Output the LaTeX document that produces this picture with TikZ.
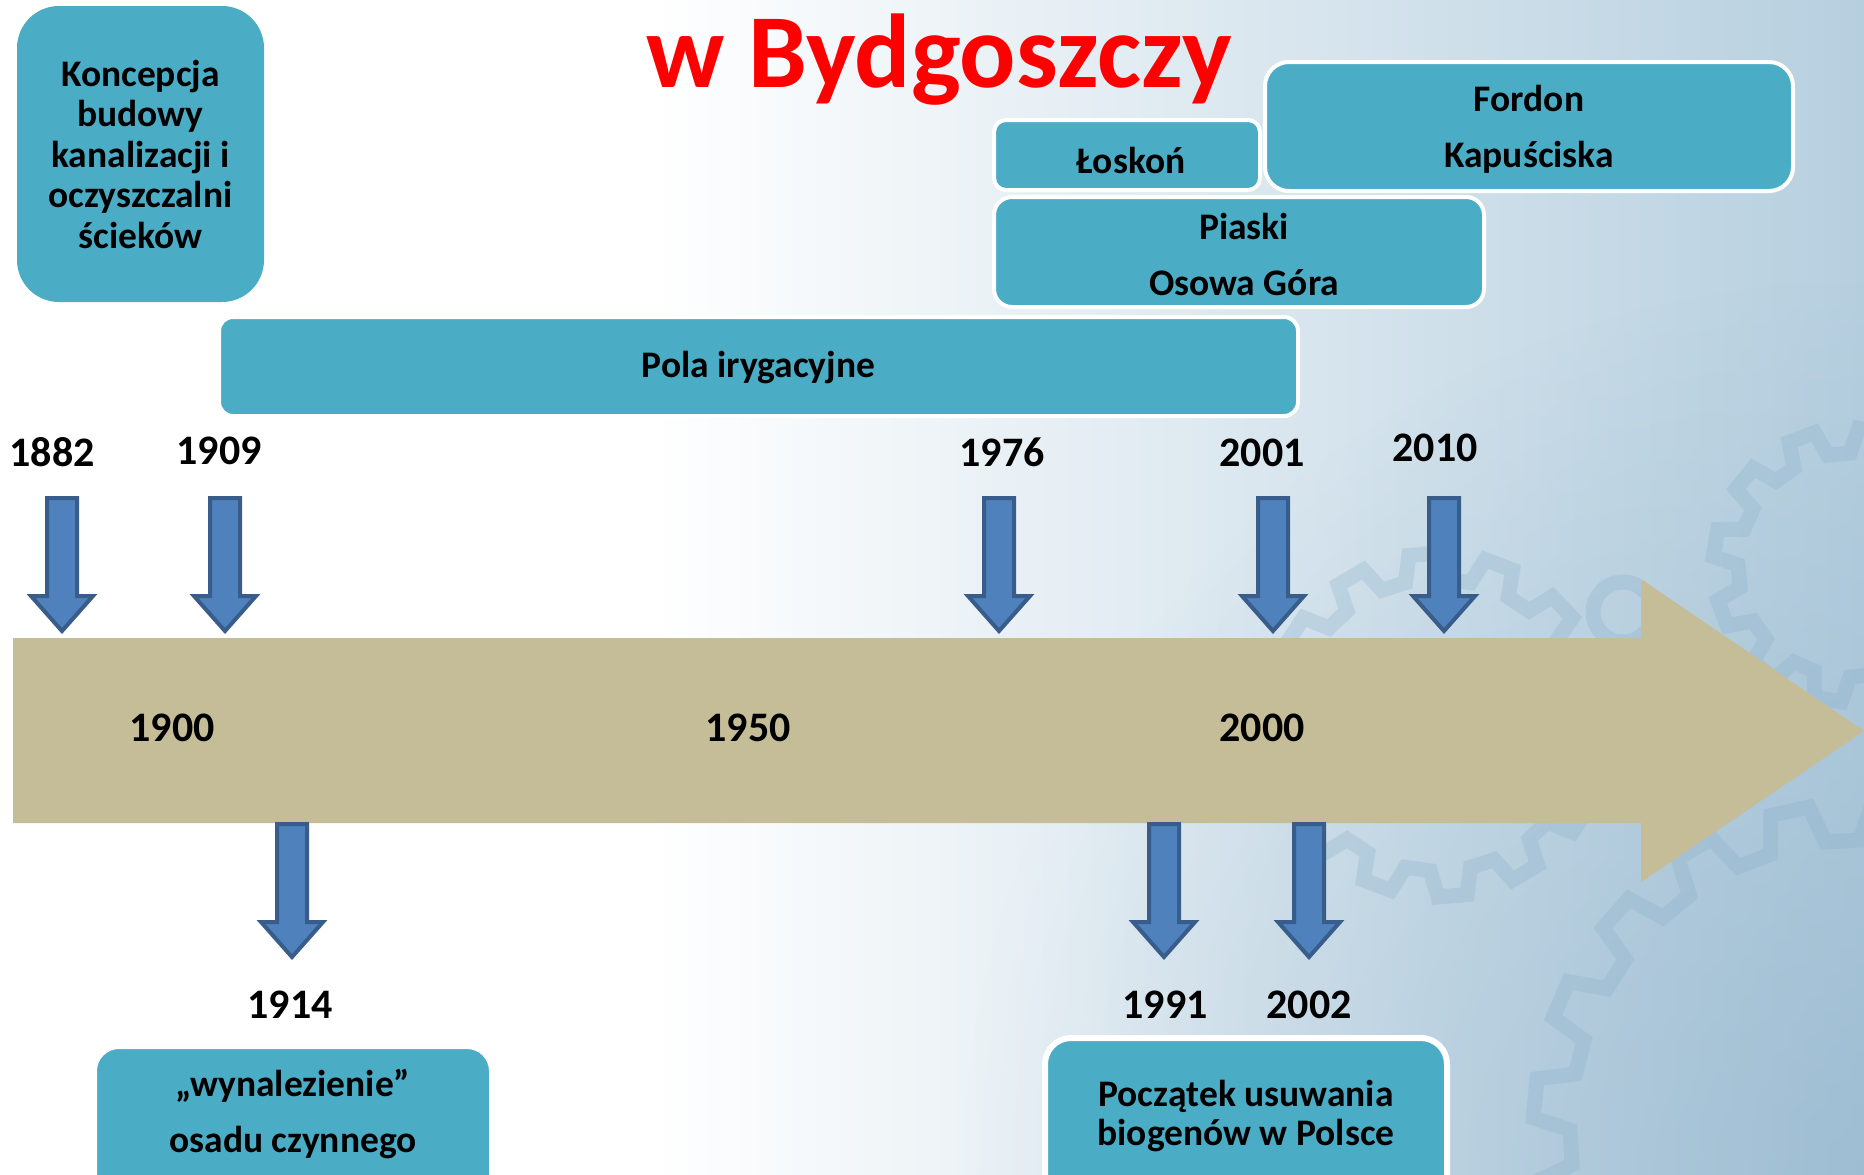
\documentclass[tikz,border=0pt]{standalone}
\usepackage{fontspec}
\setmainfont{Carlito}
\usetikzlibrary{fadings}
\tikzfading[name=myfade, inner color=transparent!0, outer color=transparent!100]
\definecolor{teal1}{HTML}{4BACC6}
\definecolor{bandc}{HTML}{C4BD97}
\definecolor{arrfill}{HTML}{4F81BD}
\definecolor{arrdraw}{HTML}{385D8A}
\definecolor{bgright}{HTML}{B6CFDF}
\definecolor{bgdark}{HTML}{8FB2CB}
\definecolor{gearc}{HTML}{86ADC8}
\definecolor{titlered}{HTML}{FF0000}
\tikzset{
  box/.style={fill=teal1, draw=white, line width=4pt, inner sep=0pt},
  boxtext/.style={align=center, inner sep=0pt, font=\bfseries\fontsize{37.5}{56}\selectfont},
  year/.style={font=\bfseries\fontsize{42}{48}\selectfont, inner sep=0pt},
  gearline/.style={draw=gearc, line width=15pt, opacity=0.27, line join=miter},
  pics/blockarrow/.style={code={
     \path[fill=arrfill, draw=arrdraw, line width=4pt, line join=miter]
       (-15,0) -- (15,0) -- (15,98) -- (31,98) -- (0,133) -- (-31,98) -- (-15,98) -- cycle;}}
}
\newcommand\drawgear[5]{%
  \pgfmathtruncatemacro\gearN{#5-1}%
  \draw[gearline, shift={(#1,#2)}] (0:#3)
    \foreach \k in {0,...,\gearN}{
      -- ({(\k+0.12)*360/#5}:#4) -- ({(\k+0.5)*360/#5}:#4)
      -- ({(\k+0.62)*360/#5}:#3) -- ({(\k+1)*360/#5}:#3)
    } -- cycle;}
\begin{document}
\begin{tikzpicture}[x=1pt,y=-1pt]
\useasboundingbox (0,0) rectangle (1864,1175);
\clip (0,0) rectangle (1864,1175);
% background
\fill[white] (0,0) rectangle (1864,1175);
\shade[left color=white, right color=bgright] (650,0) rectangle (1864,1175);
\fill[bgdark, path fading=myfade, opacity=0.6] (1864,1175) circle[radius=900];
% gears
\drawgear{1850}{565}{112}{137}{12}
\drawgear{1860}{1130}{290}{327}{20}
\drawgear{1438}{725}{146}{172}{14}
\draw[gearline] (1623,612) circle[radius=30];

% title
\node[font=\bfseries\fontsize{105}{110}\selectfont, text=titlered, anchor=base, inner sep=0pt] (title) at (939,87) {w Bydgoszczy};

% top boxes
\node[box, draw=none, rounded corners=42pt, minimum width=247, minimum height=296] (konc) at (140.5,154) {};
\node[boxtext, font=\bfseries\fontsize{37.5}{40.5}\selectfont] (konctext) at (konc.center)
      {Koncepcja\\budowy\\kanalizacji i\\oczyszczalni\\ścieków};
\node[box, rounded corners=14pt, minimum width=1079, minimum height=99] (pola) at (758.5,366.5) {};
\node[boxtext] (polatext) at ([yshift=-1pt]pola.center) {Pola irygacyjne};
\node[box, rounded corners=12pt, minimum width=266, minimum height=70] (loskon) at (1127,155) {};
\node[boxtext] (loskontext) at ([xshift=4pt,yshift=-5pt]loskon.center) {Łoskoń};
\node[box, rounded corners=24pt, minimum width=528, minimum height=129] (fordon) at (1529,126.5) {};
\node[boxtext] (fordontext) at ([yshift=-2.5pt]fordon.center) {Fordon\\Kapuściska};
\node[box, rounded corners=18pt, minimum width=490, minimum height=110] (piaski) at (1239,252) {};
\node[boxtext] (piaskitext) at ([xshift=5pt,yshift=-2.5pt]piaski.center) {Piaski\\Osowa Góra};

% timeline band
\path[fill=bandc] (13,638) -- (1641,638) -- (1641,579) -- (1864,731) -- (1641,882) -- (1641,823) -- (13,823) -- cycle;
\node[year] (t1900) at (172,728) {1900};
\node[year] (t1950) at (748,728) {1950};
\node[year] (t2000) at (1262,728) {2000};

% year labels
\node[year] (y1882) at (52,452) {1882};
\node[year] (y1909) at (219,451) {1909};
\node[year] (y1976) at (1002,452) {1976};
\node[year] (y2001) at (1262,453) {2001};
\node[year] (y2010) at (1435,448) {2010};
\node[year] (y1914) at (290,1005) {1914};
\node[year] (y1991) at (1165,1005) {1991};
\node[year] (y2002) at (1309,1005) {2002};

% block arrows
\coordinate (a1882) at (62,498);
\coordinate (a1909) at (225,498);
\coordinate (a1976) at (999,498);
\coordinate (a2001) at (1273,498);
\coordinate (a2010) at (1444,498);
\coordinate (a1914) at (292,824);
\coordinate (a1991) at (1164,824);
\coordinate (a2002) at (1309,824);
\foreach \c in {a1882,a1909,a1976,a2001,a2010,a1914,a1991,a2002}
  \pic at (\c) {blockarrow};

% bottom boxes
\node[box, rounded corners=24pt, minimum width=396, minimum height=200] (wyn) at (293,1147) {};
\node[boxtext] (wyntext) at (293,1114) {„wynalezienie”\\osadu czynnego};
\node[box, line width=6pt, rounded corners=26pt, minimum width=402, minimum height=200] (pocz) at (1246,1138) {};
\node[boxtext, font=\bfseries\fontsize{37.5}{39}\selectfont] (pocztext) at (1246,1116) {Początek usuwania\\biogenów w Polsce};
\end{tikzpicture}
\end{document}
